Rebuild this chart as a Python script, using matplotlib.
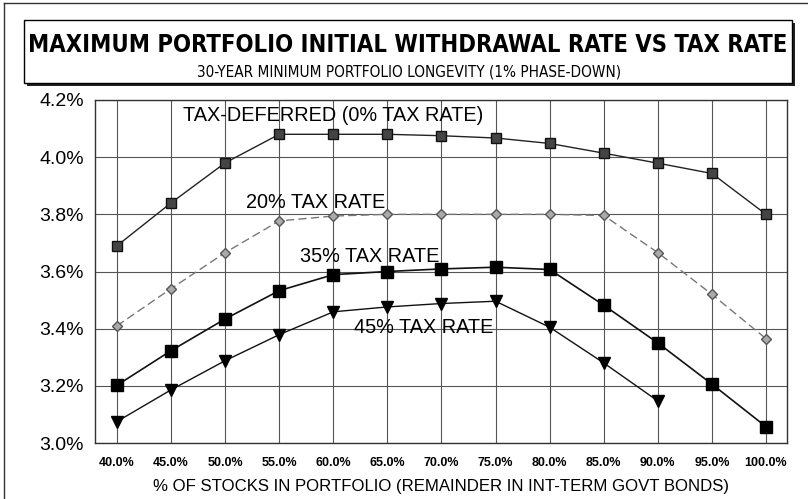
import matplotlib
matplotlib.use('Agg')
import matplotlib.pyplot as plt
from matplotlib.patches import Rectangle
from matplotlib.lines import Line2D

# % of stocks in portfolio
stocks = [40, 45, 50, 55, 60, 65, 70, 75, 80, 85, 90, 95, 100]
x_labels = ['40.0%', '45.0%', '50.0%', '55.0%', '60.0%', '65.0%', '70.0%',
            '75.0%', '80.0%', '85.0%', '90.0%', '95.0%', '100.0%']

# max initial withdrawal rate (%)
tax_0 = [3.69, 3.84, 3.98, 4.08, 4.08, 4.08, 4.075, 4.067, 4.048, 4.014, 3.979, 3.943, 3.80]
tax_20 = [3.41, 3.54, 3.666, 3.777, 3.794, 3.80, 3.80, 3.80, 3.80, 3.796, 3.666, 3.52, 3.365]
tax_35 = [3.202, 3.323, 3.434, 3.533, 3.589, 3.60, 3.609, 3.615, 3.607, 3.482, 3.35, 3.206, 3.057]
stocks_45 = [40, 45, 50, 55, 60, 65, 70, 75, 80, 85, 90]
tax_45 = [3.075, 3.186, 3.288, 3.379, 3.459, 3.476, 3.488, 3.496, 3.405, 3.28, 3.147]

y_ticks = [3.0, 3.2, 3.4, 3.6, 3.8, 4.0, 4.2]

W, H = 808, 499
fig = plt.figure(figsize=(W / 100, H / 100), dpi=100)

arial = ['Liberation Sans', 'DejaVu Sans']

# outer frame (left/top only visible)
fig.add_artist(Line2D([4 / W, 4 / W], [1 - 3 / H, 0], transform=fig.transFigure, color='#333', lw=1))
fig.add_artist(Line2D([4 / W, 1], [1 - 3 / H, 1 - 3 / H], transform=fig.transFigure, color='#333', lw=1))

# title box with shadow
bx0, bx1, by0, by1 = 24, 792, 20, 83
fig.add_artist(Rectangle(((bx0 + 3) / W, 1 - (by1 + 3) / H), (bx1 - bx0) / W, (by1 - by0) / H,
                         transform=fig.transFigure, facecolor='#222', edgecolor='none'))
fig.add_artist(Rectangle((bx0 / W, 1 - by1 / H), (bx1 - bx0) / W, (by1 - by0) / H,
                         transform=fig.transFigure, facecolor='white', edgecolor='black', lw=1))
fig.text(408 / W, 1 - 45 / H, 'MAXIMUM PORTFOLIO INITIAL WITHDRAWAL RATE VS TAX RATE',
         ha='center', va='center', fontsize=17, fontweight='bold',
         family='DejaVu Sans', fontstretch='condensed')
fig.text(409 / W, 1 - 72 / H, '30-YEAR MINIMUM PORTFOLIO LONGEVITY (1% PHASE-DOWN)',
         ha='center', va='center', fontsize=11, family='DejaVu Sans', fontstretch='condensed')

ax = fig.add_axes([95 / W, 1 - 443 / H, (787 - 95) / W, (443 - 100) / H])
ax.set_xlim(37.97, 101.94)
ax.set_ylim(3.0, 4.2)

ax.set_xticks(stocks)
ax.set_xticklabels(x_labels, fontsize=9, fontweight='bold', family=arial)
ax.set_yticks(y_ticks)
ax.set_yticklabels([f'{v:.1f}%' for v in y_ticks], fontsize=14, family=arial)
ax.tick_params(length=0, pad=10)
ax.tick_params(axis='y', pad=8)
ax.grid(True, color='#555', lw=0.8)
ax.set_axisbelow(True)
for s in ax.spines.values():
    s.set_color('#333')
    s.set_linewidth(1)

ax.plot(stocks, tax_0, color='#222', lw=1, marker='s', markersize=7,
        markerfacecolor='#444', markeredgecolor='#111')
ax.plot(stocks, tax_20, color='#777', lw=1, ls=(0, (6, 3)), marker='D', markersize=5,
        markerfacecolor='#aaa', markeredgecolor='#555')
ax.plot(stocks, tax_35, color='#111', lw=1.2, marker='s', markersize=8,
        markerfacecolor='black', markeredgecolor='black')
ax.plot(stocks_45, tax_45, color='#111', lw=1, marker='v', markersize=8,
        markerfacecolor='black', markeredgecolor='black')

ax.text(60.0, 4.147, 'TAX-DEFERRED (0% TAX RATE)', ha='center', va='center', fontsize=14.3, family=arial)
ax.text(58.4, 3.842, '20% TAX RATE', ha='center', va='center', fontsize=14.3, family=arial)
ax.text(63.4, 3.652, '35% TAX RATE', ha='center', va='center', fontsize=14.3, family=arial)
ax.text(68.4, 3.403, '45% TAX RATE', ha='center', va='center', fontsize=14.3, family=arial)

ax.set_xlabel('% OF STOCKS IN PORTFOLIO (REMAINDER IN INT-TERM GOVT BONDS)',
              fontsize=12.1, family=arial, labelpad=7)

fig.savefig('out.png', dpi=100)
